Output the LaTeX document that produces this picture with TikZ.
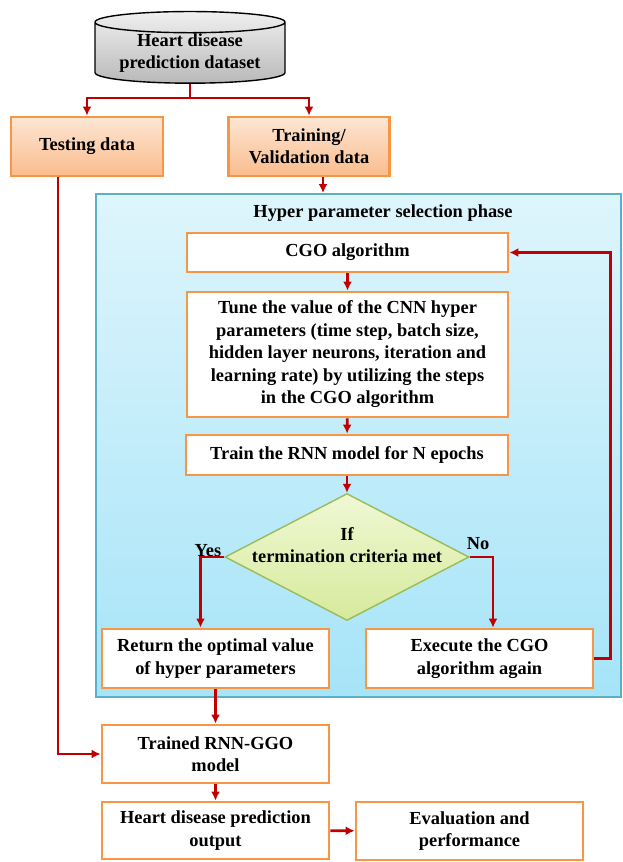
\documentclass[tikz,border=0pt]{standalone}
\usepackage{fontspec}
\setmainfont{Liberation Serif}
\usepackage{xcolor}
\usepackage{tikz}
\usetikzlibrary{shapes.geometric, arrows.meta, positioning, calc}

\definecolor{flowred}{RGB}{192,0,0}
\definecolor{boxedge}{RGB}{247,150,70}
\definecolor{peachtop}{RGB}{253,230,212}
\definecolor{peachbot}{RGB}{250,188,140}
\definecolor{phaseedge}{RGB}{90,176,200}
\definecolor{phasetop}{RGB}{222,245,252}
\definecolor{phasebot}{RGB}{166,228,248}
\definecolor{diaedge}{RGB}{155,187,89}
\definecolor{diatop}{RGB}{240,248,212}
\definecolor{diabot}{RGB}{214,234,156}

\begin{document}
\begin{tikzpicture}[x=1pt, y=-1pt,
    font=\fontsize{18.4}{22.5}\selectfont\bfseries,
    every node/.style={align=center},
    box/.style={rectangle, draw=boxedge, line width=2.8pt, fill=white, minimum width=227pt, minimum height=58pt, inner sep=2pt},
    split/.style={box, top color=peachtop, bottom color=peachbot},
    store/.style={cylinder, shape border rotate=90, aspect=0.15, draw=black, line width=1.4pt, top color=gray!12, bottom color=gray!55, minimum width=190pt, minimum height=66pt, inner sep=0pt},
    decision/.style={diamond, draw=diaedge, line width=1.4pt, top color=diatop, bottom color=diabot, minimum width=244pt, minimum height=127pt, inner sep=0pt},
    phase/.style={rectangle, draw=phaseedge, line width=2pt, top color=phasetop, bottom color=phasebot, minimum width=525pt, minimum height=503pt},
    flow/.style={draw=flowred, line width=2.8pt, -{Latex[length=9pt, width=9pt]}}]
    \useasboundingbox (0,0) rectangle (623,862);

    \node [phase] (phase) at (358.5,445.5) {};
    \node (title) at (383,213) {Hyper parameter selection phase};

    \node [store] (data) at (190,53) {Heart disease\\prediction dataset};
    \coordinate (fork) at (190,98);
    \node [split, minimum width=152pt, minimum height=59pt] (test) at (87,146.5) {Testing data};
    \node [split, minimum width=161pt, minimum height=59pt] (train) at (309,146.5) {Training/\\Validation data};

    \node [box, minimum width=321pt, minimum height=39pt] (cgo) at (347.5,252.5) {CGO algorithm};
    \node [box, minimum width=321pt, minimum height=125pt] (tune) at (347.5,354.5) {Tune the value of the CNN hyper\\parameters (time step, batch size,\\hidden layer neurons, iteration and\\learning rate) by utilizing the steps\\in the CGO algorithm};
    \node [box, minimum width=322pt, minimum height=40pt] (rnn) at (347,455) {Train the RNN model for N epochs};
    \node [decision] (cond) at (347,557) {};
    \node (condtext) at ([yshift=12pt]cond.center) {If\\termination criteria met};
    \node [box, minimum height=59pt] (ret) at (215.5,658.5) {Return the optimal value\\of hyper parameters};
    \node [box, minimum height=59pt] (exec) at (479.5,658.5) {Execute the CGO\\algorithm again};
    \node (yes) at (208,551) {Yes};
    \node (no) at (478,544) {No};

    \node [box] (trained) at (215.5,754) {Trained RNN-GGO\\model};
    \node [box, minimum height=57pt] (out) at (215.5,830.5) {Heart disease prediction\\output};
    \node [box] (eval) at (469.5,831) {Evaluation and\\performance};

    \draw [flow] (data.south) -- (fork) -| (test.north);
    \draw [flow] (data.south) -- (fork) -| (train.north);
    \draw [flow] ([xshift=14pt]train.south) -- ([xshift=14pt]train.south |- phase.north);
    \draw [flow] (cgo) -- (tune);
    \draw [flow] (tune) -- (rnn);
    \draw [flow] (rnn) -- (cond);
    \draw [flow] (cond.west) -| ([xshift=-15pt]ret.north);
    \draw [flow] (cond.east) -| ([xshift=13.5pt]exec.north);
    \draw [flow] (exec.east) -- ++(16,0) |- (cgo.east);
    \draw [flow] (ret) -- (trained);
    \draw [flow] ([xshift=-29pt]test.south) |- (trained.west);
    \draw [flow] (trained) -- (out);
    \draw [flow] (out) -- (eval);
\end{tikzpicture}
\end{document}
